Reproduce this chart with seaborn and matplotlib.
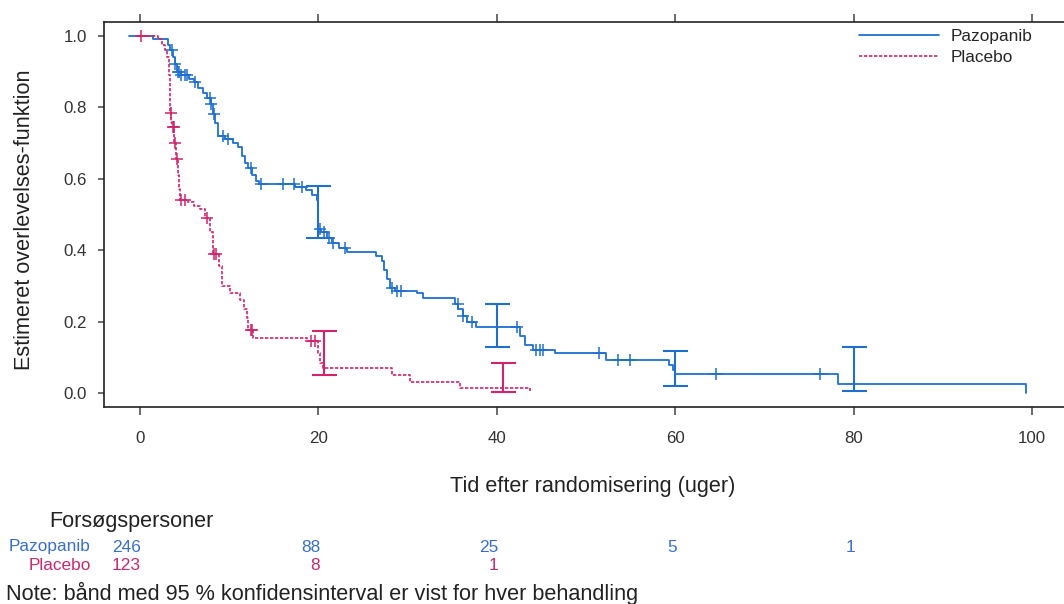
import numpy as np
import pandas as pd
import matplotlib
matplotlib.use("Agg")
import matplotlib.pyplot as plt
import seaborn as sns
from matplotlib.lines import Line2D

# ---------------- data ----------------
paz_t = [-1.3, 1.5, 3.1, 3.4, 3.7, 3.9, 4.1, 4.6, 5.5, 6.0, 6.5, 7.0, 7.5, 8.0, 8.2, 8.4, 8.7,
         9.5, 10.4, 11.0, 11.4, 11.8, 12.1, 12.6, 13.0, 13.3, 17.4, 18.6, 19.3, 19.8, 20.0, 20.3,
         21.0, 21.5, 22.3, 23.2, 26.5, 27.1, 27.4, 27.7, 28.0, 28.6, 31.0, 31.7, 35.3, 35.7, 36.2,
         36.7, 37.7, 42.6, 43.2, 44.0, 46.5, 52.2, 59.3, 59.7, 60.0, 78.3, 99.3]
paz_s = [1.0, 0.99, 0.975, 0.96, 0.94, 0.92, 0.90, 0.89, 0.88, 0.87, 0.855, 0.84, 0.825, 0.81,
         0.78, 0.755, 0.72, 0.71, 0.70, 0.69, 0.665, 0.645, 0.63, 0.61, 0.595, 0.585, 0.578, 0.568,
         0.555, 0.54, 0.46, 0.45, 0.435, 0.42, 0.405, 0.395, 0.385, 0.37, 0.345, 0.32, 0.295, 0.287,
         0.28, 0.266, 0.25, 0.235, 0.215, 0.198, 0.185, 0.16, 0.135, 0.122, 0.111, 0.093, 0.08,
         0.065, 0.053, 0.025, 0.0]

pla_t = [-0.4, 2.0, 2.4, 2.8, 3.0, 3.2, 3.3, 3.4, 3.5, 3.6, 3.8, 4.0, 4.2, 4.4, 4.5, 5.4, 6.0,
         6.7, 7.3, 7.8, 8.2, 8.8, 9.2, 10.1, 11.2, 11.6, 12.0, 12.1, 12.7, 18.7, 20.0, 20.2, 20.5,
         28.2, 30.3, 35.9, 43.7]
pla_s = [1.0, 0.99, 0.975, 0.96, 0.94, 0.89, 0.84, 0.785, 0.76, 0.745, 0.70, 0.655, 0.61, 0.57,
         0.54, 0.535, 0.525, 0.515, 0.49, 0.45, 0.39, 0.355, 0.30, 0.28, 0.26, 0.235, 0.21, 0.176,
         0.155, 0.145, 0.111, 0.083, 0.07, 0.05, 0.032, 0.013, 0.005]

paz_cens = [3.6, 3.9, 4.2, 4.4, 4.6, 5.0, 5.3, 6.2, 7.8, 8.0, 8.3, 9.3, 9.8, 12.4, 13.5, 16.0,
            17.2, 18.2, 20.2, 20.6, 21.2, 21.6, 23.0, 28.3, 28.8, 29.3, 35.6, 36.2, 37.2, 42.3,
            44.4, 44.8, 45.2, 51.5, 53.6, 54.9, 64.6, 76.2]
pla_cens = [0.1, 3.45, 3.65, 3.75, 3.9, 4.1, 4.6, 5.0, 7.5, 8.25, 8.5, 12.4, 12.6, 19.2, 19.6]

paz_ci_t = [20, 40, 60, 80]
paz_ci_lo = [0.433, 0.130, 0.020, 0.006]
paz_ci_hi = [0.581, 0.248, 0.118, 0.130]
pla_ci_t = [20.6, 40.7]
pla_ci_lo = [0.052, 0.002]
pla_ci_hi = [0.175, 0.084]

arms = ["Pazopanib", "Placebo"]
risk_paz = ["246", "88", "25", "5", "1"]
risk_pla = ["123", "8", "1"]
x_ticks = [0, 20, 40, 60, 80, 100]
y_ticks = [0.0, 0.2, 0.4, 0.6, 0.8, 1.0]

# ---------------- style ----------------
sns.set_theme(style="ticks")
plt.rcParams["font.family"] = ["Liberation Sans", "DejaVu Sans"]

BLUE = "#1f6fd0"
PINK = "#d0246c"
W, H = 1064, 604

fig = plt.figure(figsize=(W / 100, H / 100), dpi=100)
ax = fig.add_axes([104 / W, (H - 407) / H, (W - 104) / W + 0.01, (407 - 22) / H])

df_paz = pd.DataFrame({"t": paz_t, "S": paz_s})
df_pla = pd.DataFrame({"t": pla_t, "S": pla_s})

sns.lineplot(data=df_paz, x="t", y="S", ax=ax, color=BLUE, lw=1.3, drawstyle="steps-post",
             estimator=None, sort=False)
sns.lineplot(data=df_pla, x="t", y="S", ax=ax, color=PINK, lw=1.2, drawstyle="steps-post",
             estimator=None, sort=False, linestyle=(0, (2.0, 1.0)))


def step_value(times, surv, q):
    idx = np.searchsorted(np.asarray(times), np.asarray(q), side="right") - 1
    return np.asarray(surv)[np.clip(idx, 0, len(surv) - 1)]


ax.plot(paz_cens, step_value(paz_t, paz_s, paz_cens), ls="none", marker="+", ms=8, mew=1.1,
        color=BLUE)
ax.plot(pla_cens, step_value(pla_t, pla_s, pla_cens), ls="none", marker="+", ms=8, mew=1.1,
        color=PINK)

for tt, lo, hi, c in [(paz_ci_t, paz_ci_lo, paz_ci_hi, BLUE), (pla_ci_t, pla_ci_lo, pla_ci_hi, PINK)]:
    lo = np.asarray(lo)
    hi = np.asarray(hi)
    mid = (lo + hi) / 2
    ax.errorbar(tt, mid, yerr=[mid - lo, hi - mid], fmt="none", ecolor=c, elinewidth=1.5,
                capsize=9, capthick=1.5)

ax.set_xlim(-4.05, 103.6 + 0.01 * W / 8.92)
ax.set_ylim(-0.039, 1.039)
ax.set_xticks(x_ticks)
ax.set_yticks(y_ticks)
ax.set_yticklabels([f"{v:.1f}" for v in y_ticks])
ax.tick_params(axis="x", which="both", top=True, labeltop=False, direction="out", length=6.0,
               width=1.1, color="#444444", pad=11, labelsize=12.2, labelcolor="#333333")
ax.tick_params(axis="y", direction="out", length=4.5, width=1.1, color="#444444", pad=8,
               labelsize=12.2, labelcolor="#333333")
for side in ["left", "bottom", "top"]:
    ax.spines[side].set_color("#222222")
    ax.spines[side].set_linewidth(1.2)
ax.spines["right"].set_visible(False)

ax.set_xlabel("Tid efter randomisering (uger)", fontsize=15.6, color="#222222")
ax.set_ylabel("Estimeret overlevelses-funktion", fontsize=15.6, color="#222222")
ax.xaxis.set_label_coords((587 - 104) / 960, (407 - 476) / 385)
ax.yaxis.set_label_coords((36 - 104) / 960, (407 - 220) / 385)

handles = [Line2D([], [], color=BLUE, lw=1.3), Line2D([], [], color=PINK, lw=1.2, ls=(0, (2.0, 1.0)))]
ax.legend(handles, arms, loc="upper left", bbox_to_anchor=((851 - 104) / 960, (407 - 29) / 385),
          frameon=False, fontsize=12.4, handlelength=4.6, handletextpad=0.7, labelspacing=0.33,
          borderpad=0, borderaxespad=0)


def ftext(x, y, s, **kw):
    fig.text(x / W, 1 - y / H, s, va="center", **kw)


ftext(49, 522, "Forsøgspersoner", fontsize=15.6, color="#222222", ha="left")
ftext(91, 547, arms[0], fontsize=12.4, color="#3a6fc8", ha="right")
ftext(91, 566, arms[1], fontsize=12.4, color="#c8286e", ha="right")
paz_x = [141, 321, 498, 677, 855]
pla_x = [141, 320, 498]
for xp, s in zip(paz_x, risk_paz):
    ftext(xp, 547, s, fontsize=12.4, color="#3a6fc8", ha="right")
for xp, s in zip(pla_x, risk_pla):
    ftext(xp, 566, s, fontsize=12.4, color="#c8286e", ha="right")
ftext(6, 593, "Note: bånd med 95 % konfidensinterval er vist for hver behandling", fontsize=15.6,
      color="#222222", ha="left")

fig.savefig("out.png", dpi=100)
